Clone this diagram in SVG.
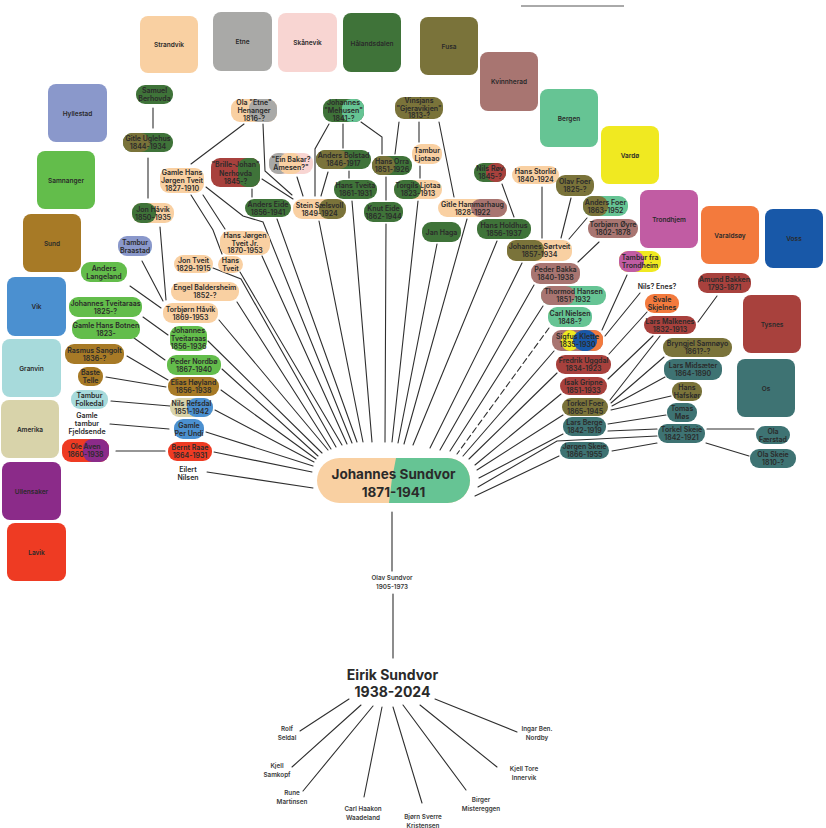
<svg xmlns="http://www.w3.org/2000/svg" width="826" height="828" viewBox="0 0 826 828">
<style>
.pe{fill:#F9D0A2}.gy{fill:#A9A9A7}.pk{fill:#F8D5D2}.dg{fill:#3F7339}.ol{fill:#7A733A}.ro{fill:#A87571}.mi{fill:#66C494}.ye{fill:#F0E921}.ma{fill:#C15CA3}.or{fill:#F37A3D}.bl{fill:#1858A8}.rd{fill:#A8413D}.te{fill:#3E7373}.pw{fill:#8A98CB}.gr{fill:#63BD4B}.br{fill:#A77A26}.vb{fill:#4B90D0}.cy{fill:#A7DADB}.be{fill:#D8D3AA}.pu{fill:#8B2B89}.lr{fill:#EE3B23}
text{font-family:Inter,"Liberation Sans",sans-serif;font-weight:600;fill:#2a2a2a;text-anchor:middle}
.n text{font-size:7px}
.n rect{rx:9px;ry:9px}
.b rect{rx:8px;ry:8px}
.b text{font-size:6.5px}
.c line,.c polyline{stroke:#2f2f2f;stroke-width:1.1;fill:none;stroke-linecap:round}
.c .d{stroke-dasharray:6 3.5}
.t{font-size:6.3px;fill:#3a3a3a}
.big{font-size:13.5px;font-weight:700}
</style>

<g id="header"><line x1="521" y1="6" x2="624" y2="6" stroke="#555" stroke-width="1"/></g>

<g id="regions" class="b">
<g id="r-strandvik"><rect class="pe" x="140" y="16" width="58" height="57"/><text x="169" y="47">Strandvik</text></g>
<g id="r-etne"><rect class="gy" x="213" y="12" width="59" height="59"/><text x="242.5" y="43.5">Etne</text></g>
<g id="r-skanevik"><rect class="pk" x="278" y="13" width="59" height="59"/><text x="307.5" y="45">Skånevik</text></g>
<g id="r-halandsdalen"><rect class="dg" x="343" y="13" width="58" height="59"/><text x="372" y="45.5">Hålandsdalen</text></g>
<g id="r-fusa"><rect class="ol" x="420" y="17" width="58" height="58"/><text x="449" y="48.5">Fusa</text></g>
<g id="r-kvinnherad"><rect class="ro" x="480" y="52" width="58" height="59"/><text x="509" y="83.5">Kvinnherad</text></g>
<g id="r-bergen"><rect class="mi" x="540" y="89" width="58" height="58"/><text x="569" y="120.5">Bergen</text></g>
<g id="r-vardo"><rect class="ye" x="601" y="126" width="58" height="58"/><text x="630" y="157.5">Vardø</text></g>
<g id="r-trondhjem"><rect class="ma" x="640" y="190" width="58" height="58"/><text x="669" y="221.5">Trondhjem</text></g>
<g id="r-varaldsoy"><rect class="or" x="701" y="206" width="58" height="58"/><text x="730" y="237.5">Varaldsøy</text></g>
<g id="r-voss"><rect class="bl" x="765" y="209" width="58" height="59"/><text x="794" y="241">Voss</text></g>
<g id="r-tysnes"><rect class="rd" x="743" y="295" width="58" height="58"/><text x="772" y="326.5">Tysnes</text></g>
<g id="r-os"><rect class="te" x="737" y="359" width="58" height="58"/><text x="766" y="390.5">Os</text></g>
<g id="r-hyllestad"><rect class="pw" x="48" y="84" width="59" height="58"/><text x="77.5" y="115.5">Hyllestad</text></g>
<g id="r-samnanger"><rect class="gr" x="37" y="151" width="58" height="58"/><text x="66" y="182.5">Samnanger</text></g>
<g id="r-sund"><rect class="br" x="23" y="214" width="58" height="58"/><text x="52" y="245.5">Sund</text></g>
<g id="r-vik"><rect class="vb" x="7" y="277" width="59" height="59"/><text x="36.5" y="308.5">Vik</text></g>
<g id="r-granvin"><rect class="cy" x="2" y="339" width="59" height="58"/><text x="31.5" y="370.5">Granvin</text></g>
<g id="r-amerika"><rect class="be" x="1" y="400" width="58" height="58"/><text x="30" y="431.5">Amerika</text></g>
<g id="r-ullensaker"><rect class="pu" x="2" y="462" width="59" height="58"/><text x="31.5" y="493.5">Ullensaker</text></g>
<g id="r-lavik"><rect class="lr" x="7" y="523" width="59" height="58"/><text x="36.5" y="554.5">Lavik</text></g>
</g>

<g id="connectors" class="c">
<line x1="153" y1="108" x2="153" y2="128"/>
<line x1="148" y1="158" x2="148" y2="198"/>
<line x1="160" y1="227" x2="166" y2="300"/>
<line x1="142" y1="261" x2="163" y2="301"/>
<line x1="130" y1="286" x2="161" y2="308"/>
<line x1="244" y1="124" x2="191" y2="164"/>
<line x1="203" y1="195" x2="225" y2="229"/>
<polyline points="191,195 213,230 222,254"/>
<polyline points="263,124 265,171 292,195"/>
<line x1="262" y1="179" x2="293" y2="199"/>
<line x1="252" y1="189" x2="252" y2="197"/>
<line x1="297" y1="177" x2="303" y2="196"/>
<line x1="328" y1="172" x2="321" y2="196"/>
<polyline points="329,124 315,149 315,196"/>
<line x1="343" y1="124" x2="343" y2="148"/>
<polyline points="361,122 382,137 382,154"/>
<line x1="399" y1="122" x2="395" y2="154"/>
<line x1="419" y1="122" x2="419" y2="142"/>
<line x1="439" y1="122" x2="454" y2="197"/>
<line x1="420" y1="166" x2="420" y2="178"/>
<line x1="349" y1="171" x2="349" y2="178"/>
<line x1="386" y1="177" x2="386" y2="200"/>
<line x1="502" y1="184" x2="514" y2="217"/>
<line x1="542" y1="187" x2="542" y2="238"/>
<line x1="571" y1="198" x2="561" y2="238"/>
<line x1="587" y1="218" x2="569" y2="239"/>
<line x1="599" y1="242" x2="578" y2="262"/>
<line x1="627" y1="275" x2="602" y2="330"/>
<line x1="640" y1="293" x2="605" y2="336"/>
<line x1="647" y1="312" x2="609" y2="354"/>
<line x1="653" y1="336" x2="608" y2="379"/>
<line x1="660" y1="336" x2="610" y2="400"/>
<line x1="717" y1="296" x2="698" y2="322"/>
<line x1="664" y1="357" x2="611" y2="403"/>
<line x1="665" y1="377" x2="612" y2="406"/>
<line x1="671" y1="396" x2="611" y2="410"/>
<line x1="666" y1="415" x2="608" y2="424"/>
<line x1="657" y1="429" x2="608" y2="431"/>
<polyline points="657,436 557,441 478,487"/>
<line x1="754" y1="429" x2="707" y2="429"/>
<line x1="749" y1="456" x2="706" y2="443"/>
<line x1="612" y1="451" x2="657" y2="443"/>
<line x1="143" y1="317" x2="168" y2="335"/>
<line x1="134" y1="338" x2="165" y2="360"/>
<line x1="127" y1="356" x2="168" y2="380"/>
<line x1="106" y1="377" x2="166" y2="387"/>
<line x1="111" y1="401" x2="170" y2="406"/>
<line x1="110" y1="424" x2="169" y2="429"/>
<line x1="116" y1="451" x2="165" y2="451"/>
<line x1="207" y1="472" x2="313" y2="488"/>
<line x1="214" y1="452" x2="312" y2="472"/>
<line x1="206" y1="432" x2="313" y2="466"/>
<line x1="215" y1="410" x2="314" y2="462"/>
<line x1="221" y1="390" x2="316" y2="459"/>
<line x1="222" y1="369" x2="318" y2="456"/>
<line x1="208" y1="341" x2="322" y2="453"/>
<line x1="219" y1="320" x2="328" y2="450"/>
<line x1="237" y1="302" x2="331" y2="449"/>
<polyline points="213,268 241,279 336,447"/>
<line x1="240" y1="272" x2="342" y2="445"/>
<line x1="262" y1="256" x2="347" y2="444"/>
<polyline points="206,187 243,216 263,222 352,443"/>
<line x1="277" y1="219" x2="357" y2="442"/>
<line x1="319" y1="221" x2="363" y2="442"/>
<line x1="352" y1="201" x2="372" y2="442"/>
<line x1="386" y1="224" x2="385" y2="442"/>
<line x1="418" y1="201" x2="392" y2="442"/>
<line x1="437" y1="244" x2="398" y2="443"/>
<line x1="467" y1="219" x2="404" y2="444"/>
<line x1="497" y1="241" x2="413" y2="445"/>
<line x1="522" y1="263" x2="430" y2="448"/>
<line x1="534" y1="285" x2="440" y2="450"/>
<line x1="543" y1="306" x2="450" y2="451"/>
<line class="d" x1="549" y1="328" x2="457" y2="454"/>
<line x1="554" y1="351" x2="463" y2="456"/>
<line x1="557" y1="373" x2="469" y2="459"/>
<line x1="561" y1="394" x2="475" y2="465"/>
<line x1="563" y1="415" x2="477" y2="470"/>
<line x1="563" y1="434" x2="479" y2="478"/>
<line x1="559" y1="456" x2="475" y2="496"/>
<line x1="392" y1="512" x2="392" y2="571"/>
<line x1="393" y1="594" x2="393" y2="658"/>
<line x1="349" y1="699" x2="300" y2="731"/>
<line x1="361" y1="705" x2="292" y2="767"/>
<line x1="373" y1="706" x2="303" y2="791"/>
<line x1="382" y1="707" x2="364" y2="797"/>
<line x1="393" y1="707" x2="422" y2="803"/>
<line x1="403" y1="705" x2="466" y2="790"/>
<line x1="420" y1="705" x2="497" y2="767"/>
<line x1="435" y1="699" x2="517" y2="732"/>
</g>

<g id="nodes" class="n">
<g id="n-samuel-berhovda"><rect class="dg" x="136" y="85" width="37" height="19"/><text x="154.5" y="93.3">Samuel<tspan x="154.5" dy="7.8">Berhovda</tspan></text></g>
<g id="n-gitle-uglehus"><rect class="dg" x="123" y="133" width="50" height="19"/><rect class="ol" x="123" y="133" width="27" height="19"/><text x="148" y="141.3">Gitle Uglehus<tspan x="148" dy="7.8">1844-1934</tspan></text></g>
<g id="n-jon-havik"><rect class="pe" x="132" y="203" width="42" height="20"/><rect class="dg" x="132" y="203" width="24" height="20"/><text x="153" y="211.8">Jon Håvik<tspan x="153" dy="7.8">1850-1935</tspan></text></g>
<g id="n-tambur-braastad"><rect class="pw" x="118" y="236" width="34" height="20"/><text x="135" y="244.8">Tambur<tspan x="135" dy="7.8">Braastad</tspan></text></g>
<g id="n-ola-etne"><rect class="pe" x="231" y="99" width="46" height="23"/><rect class="gy" x="249" y="99" width="28" height="23"/><text x="254" y="105.2">Ola "Etne"<tspan x="254" dy="7.8">Henanger</tspan><tspan x="254" dy="7.8">1816-?</tspan></text></g>
<g id="n-gamle-hjt"><rect class="pe" x="160" y="168" width="44" height="25"/><text x="182" y="175.2">Gamle Hans<tspan x="182" dy="7.8">Jørgen Tveit</tspan><tspan x="182" dy="7.8">1827-1910</tspan></text></g>
<g id="n-brille-johan"><rect class="rd" x="211" y="158" width="49" height="29"/><rect class="dg" x="238" y="158" width="22" height="29"/><text x="235.5" y="167">"Brille-Johan"<tspan x="235.5" dy="8.5">Nerhovda</tspan><tspan x="235.5" dy="8.5">1845-?</tspan></text></g>
<g id="n-anders-eide"><rect class="dg" x="245" y="199" width="46" height="18"/><text x="268" y="206.8">Anders Eide<tspan x="268" dy="7.8">1856-1941</tspan></text></g>
<g id="n-hjt-jr"><rect class="pe" x="220" y="231" width="50" height="24"/><text x="245" y="237.7">Hans Jørgen<tspan x="245" dy="7.8">Tveit Jr.</tspan><tspan x="245" dy="7.8">1870-1953</tspan></text></g>
<g id="n-jon-tveit"><rect class="pe" x="174" y="255" width="39" height="18"/><text x="193.5" y="262.8">Jon Tveit<tspan x="193.5" dy="7.8">1829-1915</tspan></text></g>
<g id="n-hans-tveit"><rect class="pe" x="218" y="256" width="25" height="17"/><text x="230.5" y="263.3">Hans<tspan x="230.5" dy="7.8">Tveit</tspan></text></g>
<g id="n-mehusen"><rect class="dg" x="323" y="99" width="41" height="23"/><rect class="mi" x="342" y="99" width="22" height="23"/><text x="343.5" y="105.2">Johannes<tspan x="343.5" dy="7.8">"Mehusen"</tspan><tspan x="343.5" dy="7.8">1841-?</tspan></text></g>
<g id="n-vinsjans"><rect class="ol" x="395" y="97" width="48" height="22"/><text x="419" y="102.7">Vinsjans<tspan x="419" dy="7.8">"Gjeravikjen"</tspan><tspan x="419" dy="7.8">1813-?</tspan></text></g>
<g id="n-ein-bakar"><rect class="pk" x="269" y="153" width="44" height="21"/><rect class="gy" x="269" y="153" width="21" height="21"/><rect class="pe" x="279" y="153" width="23" height="21"/><text x="291" y="162.3">"Ein Bakar?<tspan x="291" dy="7.8">Amesen?"</tspan></text></g>
<g id="n-anders-bolstad"><rect class="dg" x="316" y="150" width="55" height="19"/><rect class="ol" x="316" y="150" width="33" height="19"/><text x="343.5" y="158.3">Anders Bolstad<tspan x="343.5" dy="7.8">1846-1917</tspan></text></g>
<g id="n-hans-orra"><rect class="dg" x="372" y="156" width="40" height="19"/><rect class="ol" x="372" y="156" width="23" height="19"/><text x="392" y="164.3">Hans Orra<tspan x="392" dy="7.8">1851-1926</tspan></text></g>
<g id="n-tambur-ljotaao"><rect class="pe" x="412" y="144" width="30" height="20"/><text x="427" y="152.8">Tambur<tspan x="427" dy="7.8">Ljotaao</tspan></text></g>
<g id="n-hans-tveita"><rect class="dg" x="334" y="180" width="43" height="19"/><text x="355.5" y="188.3">Hans Tveita<tspan x="355.5" dy="7.8">1861-1931</tspan></text></g>
<g id="n-torgils-ljotaa"><rect class="pe" x="394" y="180" width="48" height="19"/><rect class="dg" x="394" y="180" width="27" height="19"/><text x="418" y="188.3">Torgils Ljotaa<tspan x="418" dy="7.8">1823-1913</tspan></text></g>
<g id="n-stein-saelsvoll"><rect class="pe" x="293" y="199" width="53" height="20"/><rect class="ol" x="319" y="199" width="27" height="20"/><text x="319.5" y="207.8">Stein Sælsvoll<tspan x="319.5" dy="7.8">1849-1924</tspan></text></g>
<g id="n-knut-eide"><rect class="dg" x="364" y="202" width="39" height="20"/><text x="383.5" y="210.8">Knut Eide<tspan x="383.5" dy="7.8">1862-1944</tspan></text></g>
<g id="n-gitle-hammarhaug"><rect class="pe" x="438" y="199" width="69" height="18"/><rect class="ro" x="471" y="199" width="36" height="18"/><text x="472.5" y="206.8">Gitle Hammarhaug<tspan x="472.5" dy="7.8">1828-1922</tspan></text></g>
<g id="n-jan-haga"><rect class="dg" x="422" y="222" width="39" height="20"/><text x="441.5" y="234.5">Jan Haga</text></g>
<g id="n-nils-rov"><rect class="dg" x="474" y="163" width="32" height="19"/><rect class="rd" x="486" y="163" width="20" height="19"/><text x="490" y="171.3">Nils Røv<tspan x="490" dy="7.8">1845-?</tspan></text></g>
<g id="n-hans-storlid"><rect class="pe" x="512" y="166" width="47" height="18"/><text x="535.5" y="173.8">Hans Storlid<tspan x="535.5" dy="7.8">1840-1924</tspan></text></g>
<g id="n-olav-foer"><rect class="ol" x="556" y="175" width="38" height="21"/><text x="575" y="184.3">Olav Foer<tspan x="575" dy="7.8">1825-?</tspan></text></g>
<g id="n-anders-foer"><rect class="mi" x="583" y="196" width="45" height="20"/><rect class="ol" x="583" y="196" width="25" height="20"/><text x="605.5" y="204.8">Anders Foer<tspan x="605.5" dy="7.8">1863-1952</tspan></text></g>
<g id="n-torbjorn-oyre"><rect class="ro" x="588" y="219" width="50" height="19"/><text x="613" y="227.3">Torbjørn Øyre<tspan x="613" dy="7.8">1802-1878</tspan></text></g>
<g id="n-hans-holdhus"><rect class="dg" x="477" y="219" width="54" height="20"/><text x="504" y="227.8">Hans Holdhus<tspan x="504" dy="7.8">1856-1937</tspan></text></g>
<g id="n-johannes-sortveit"><rect class="pe" x="507" y="240" width="65" height="21"/><rect class="ol" x="507" y="240" width="37" height="21"/><text x="539.5" y="249.3">Johannes Sørtveit<tspan x="539.5" dy="7.8">1857-1934</tspan></text></g>
<g id="n-tambur-trondheim"><rect class="ye" x="619" y="251" width="42" height="21"/><rect class="ma" x="619" y="251" width="25" height="21"/><text x="640" y="260.3">Tambur fra<tspan x="640" dy="7.8">Trondheim</tspan></text></g>
<g id="n-peder-bakka"><rect class="ro" x="531" y="263" width="49" height="21"/><text x="555.5" y="272.3">Peder Bakka<tspan x="555.5" dy="7.8">1840-1938</tspan></text></g>
<g id="n-thormod-hansen"><rect class="mi" x="541" y="286" width="65" height="19"/><rect class="ro" x="541" y="286" width="34" height="19"/><text x="573.5" y="294.3">Thormod Hansen<tspan x="573.5" dy="7.8">1851-1932</tspan></text></g>
<g id="n-carl-nielsen"><rect class="mi" x="548" y="307" width="44" height="20"/><text x="570" y="315.8">Carl Nielsen<tspan x="570" dy="7.8">1848-?</tspan></text></g>
<g id="n-sigfus-klette"><rect class="ro" x="552" y="330" width="51" height="21"/><rect class="or" x="585" y="330" width="18" height="21"/><ellipse class="ye" cx="570" cy="340.5" rx="9" ry="10.5"/><ellipse class="bl" cx="585" cy="340.5" rx="12" ry="10.5"/><text x="577.5" y="339.3">Sigfus Klette<tspan x="577.5" dy="7.8">1835-1930</tspan></text></g>
<g id="n-fredrik-uggdal"><rect class="rd" x="556" y="355" width="55" height="19"/><text x="583.5" y="363.3">Fredrik Uggdal<tspan x="583.5" dy="7.8">1834-1923</tspan></text></g>
<g id="n-isak-gripne"><rect class="rd" x="560" y="377" width="47" height="18"/><text x="583.5" y="384.8">Isak Gripne<tspan x="583.5" dy="7.8">1851-1933</tspan></text></g>
<g id="n-torkel-foer"><rect class="ol" x="562" y="398" width="46" height="18"/><text x="585" y="405.8">Torkel Foer<tspan x="585" dy="7.8">1865-1945</tspan></text></g>
<g id="n-lars-berge"><rect class="te" x="563" y="417" width="43" height="19"/><text x="584.5" y="425.3">Lars Berge<tspan x="584.5" dy="7.8">1842-1919</tspan></text></g>
<g id="n-jorgen-skeie"><rect class="te" x="560" y="442" width="49" height="17"/><text x="584.5" y="449.3">Jørgen Skeie<tspan x="584.5" dy="7.8">1866-1955</tspan></text></g>
<g id="n-amund-bakken"><rect class="rd" x="698" y="273" width="53" height="20"/><text x="724.5" y="281.8">Amund Bakken<tspan x="724.5" dy="7.8">1793-1871</tspan></text></g>
<g id="n-nils-enes"><text x="657" y="288.5">Nils? Enes?</text></g>
<g id="n-svale-skjelnes"><rect class="or" x="645" y="294" width="34" height="19"/><text x="662" y="302.3">Svale<tspan x="662" dy="7.8">Skjelnes</tspan></text></g>
<g id="n-lars-malkenes"><rect class="rd" x="644" y="316" width="52" height="18"/><text x="670" y="323.8">Lars Malkenes<tspan x="670" dy="7.8">1832-1913</tspan></text></g>
<g id="n-bryngjel-samnoyo"><rect class="ol" x="663" y="338" width="69" height="19"/><text x="697.5" y="346.3">Bryngjel Samnøyo<tspan x="697.5" dy="7.8">1861?-?</tspan></text></g>
<g id="n-lars-midsaeter"><rect class="te" x="664" y="359" width="58" height="21"/><text x="693" y="368.3">Lars Midsæter<tspan x="693" dy="7.8">1864-1890</tspan></text></g>
<g id="n-hans-hafskor"><rect class="ol" x="672" y="382" width="30" height="19"/><text x="687" y="390.3">Hans<tspan x="687" dy="7.8">Hafskør</tspan></text></g>
<g id="n-tomas-mos"><rect class="te" x="667" y="403" width="30" height="19"/><text x="682" y="411.3">Tomas<tspan x="682" dy="7.8">Møs</tspan></text></g>
<g id="n-torkel-skeie"><rect class="te" x="658" y="424" width="47" height="19"/><text x="681.5" y="432.3">Torkel Skeie<tspan x="681.5" dy="7.8">1842-1921</tspan></text></g>
<g id="n-ola-faerstad"><rect class="te" x="756" y="426" width="34" height="18"/><text x="773" y="433.8">Ola<tspan x="773" dy="7.8">Færstad</tspan></text></g>
<g id="n-ola-skeie"><rect class="te" x="750" y="449" width="46" height="19"/><text x="773" y="457.3">Ola Skeie<tspan x="773" dy="7.8">1810-?</tspan></text></g>
<g id="n-anders-langeland"><rect class="gr" x="81" y="262" width="46" height="20"/><text x="104" y="270.8">Anders<tspan x="104" dy="7.8">Langeland</tspan></text></g>
<g id="n-johannes-tveitaraas-1825"><rect class="gr" x="69" y="297" width="73" height="20"/><text x="105.5" y="305.8">Johannes Tveitaraas<tspan x="105.5" dy="7.8">1825-?</tspan></text></g>
<g id="n-gamle-hans-botnen"><rect class="gr" x="72" y="319" width="68" height="20"/><text x="106" y="327.8">Gamle Hans Botnen<tspan x="106" dy="7.8">1823-</tspan></text></g>
<g id="n-rasmus-sangolt"><rect class="br" x="65" y="344" width="59" height="20"/><text x="94.5" y="352.8">Rasmus Sangolt<tspan x="94.5" dy="7.8">1836-?</tspan></text></g>
<g id="n-baste-telle"><rect class="br" x="78" y="367" width="25" height="19"/><text x="90.5" y="375.3">Baste<tspan x="90.5" dy="7.8">Telle</tspan></text></g>
<g id="n-tambur-folkedal"><rect class="cy" x="71" y="390" width="37" height="19"/><text x="89.5" y="398.3">Tambur<tspan x="89.5" dy="7.8">Folkedal</tspan></text></g>
<g id="n-fjeldsende"><text x="87" y="417.5">Gamle<tspan x="87" dy="8">tambur</tspan><tspan x="87" dy="8">Fjeldsende</tspan></text></g>
<g id="n-ole-aven"><rect class="lr" x="62" y="439" width="47" height="23"/><rect class="pu" x="83" y="439" width="26" height="23"/><text x="85.5" y="449.3">Ole Aven<tspan x="85.5" dy="7.8">1860-1938</tspan></text></g>
<g id="n-engel-baldersheim"><rect class="pe" x="171" y="282" width="68" height="19"/><text x="205" y="290.3">Engel Baldersheim<tspan x="205" dy="7.8">1852-?</tspan></text></g>
<g id="n-torbjorn-havik"><rect class="pe" x="163" y="303" width="55" height="20"/><text x="190.5" y="311.8">Torbjørn Håvik<tspan x="190.5" dy="7.8">1869-1953</tspan></text></g>
<g id="n-johannes-tveitaraas-1856"><rect class="gr" x="170" y="326" width="37" height="25"/><text x="188.5" y="333.2">Johannes<tspan x="188.5" dy="7.8">Tveitaraas</tspan><tspan x="188.5" dy="7.8">1856-1936</tspan></text></g>
<g id="n-peder-nordbo"><rect class="gr" x="167" y="355" width="54" height="20"/><text x="194" y="363.8">Peder Nordbø<tspan x="194" dy="7.8">1867-1940</tspan></text></g>
<g id="n-elias-hoyland"><rect class="br" x="168" y="377" width="51" height="19"/><text x="193.5" y="385.3">Elias Høyland<tspan x="193.5" dy="7.8">1856-1938</tspan></text></g>
<g id="n-nils-refsdal"><rect class="be" x="170" y="398" width="43" height="19"/><rect class="vb" x="187" y="398" width="26" height="19"/><text x="191.5" y="406.3">Nils Refsdal<tspan x="191.5" dy="7.8">1851-1942</tspan></text></g>
<g id="n-gamle-per-undi"><rect class="vb" x="174" y="419" width="30" height="20"/><text x="189" y="427.8">Gamle<tspan x="189" dy="7.8">Per Undi</tspan></text></g>
<g id="n-bernt-raae"><rect class="lr" x="168" y="442" width="44" height="19"/><text x="190" y="450.3">Bernt Raae<tspan x="190" dy="7.8">1864-1931</tspan></text></g>
<g id="n-eilert-nilsen"><text x="188" y="471.5">Eilert<tspan x="188" dy="8">Nilsen</tspan></text></g>
</g>

<g id="n-johannes-sundvor"><rect class="pe" x="317" y="458" width="153" height="45" rx="22.5"/><path class="mi" d="M396,458 H447.5 A22.5,22.5 0 0 1 447.5,503 H389 Q391,480 396,458 Z"/><text class="big" x="393.5" y="479">Johannes Sundvor<tspan x="393.5" dy="18">1871-1941</tspan></text></g>
<g id="n-olav-sundvor"><text class="t" x="392" y="580.3">Olav Sundvor<tspan x="392" dy="9">1905-1973</tspan></text></g>
<g id="n-eirik-sundvor"><text class="big" style="font-size:14px" x="392.5" y="680">Eirik Sundvor<tspan x="392.5" dy="16.5">1938-2024</tspan></text></g>
<g id="n-rolf-seldal"><text class="t" x="287" y="731.2">Rolf<tspan x="287" dy="9">Seldal</tspan></text></g>
<g id="n-kjell-samkopf"><text class="t" x="277" y="768">Kjell<tspan x="277" dy="8.5">Samkopf</tspan></text></g>
<g id="n-rune-martinsen"><text class="t" x="292" y="795">Rune<tspan x="292" dy="9">Martinsen</tspan></text></g>
<g id="n-carl-haakon-waadeland"><text class="t" x="363" y="811">Carl Haakon<tspan x="363" dy="9">Waadeland</tspan></text></g>
<g id="n-bjorn-sverre-kristensen"><text class="t" x="423" y="819.3">Bjørn Sverre<tspan x="423" dy="8.3">Kristensen</tspan></text></g>
<g id="n-birger-mistereggen"><text class="t" x="481" y="802">Birger<tspan x="481" dy="8.5">Mistereggen</tspan></text></g>
<g id="n-kjell-tore-innervik"><text class="t" x="524" y="771">Kjell Tore<tspan x="524" dy="9">Innervik</tspan></text></g>
<g id="n-ingar-nordby"><text class="t" x="537" y="731">Ingar Ben.<tspan x="537" dy="9">Nordby</tspan></text></g>
</svg>
